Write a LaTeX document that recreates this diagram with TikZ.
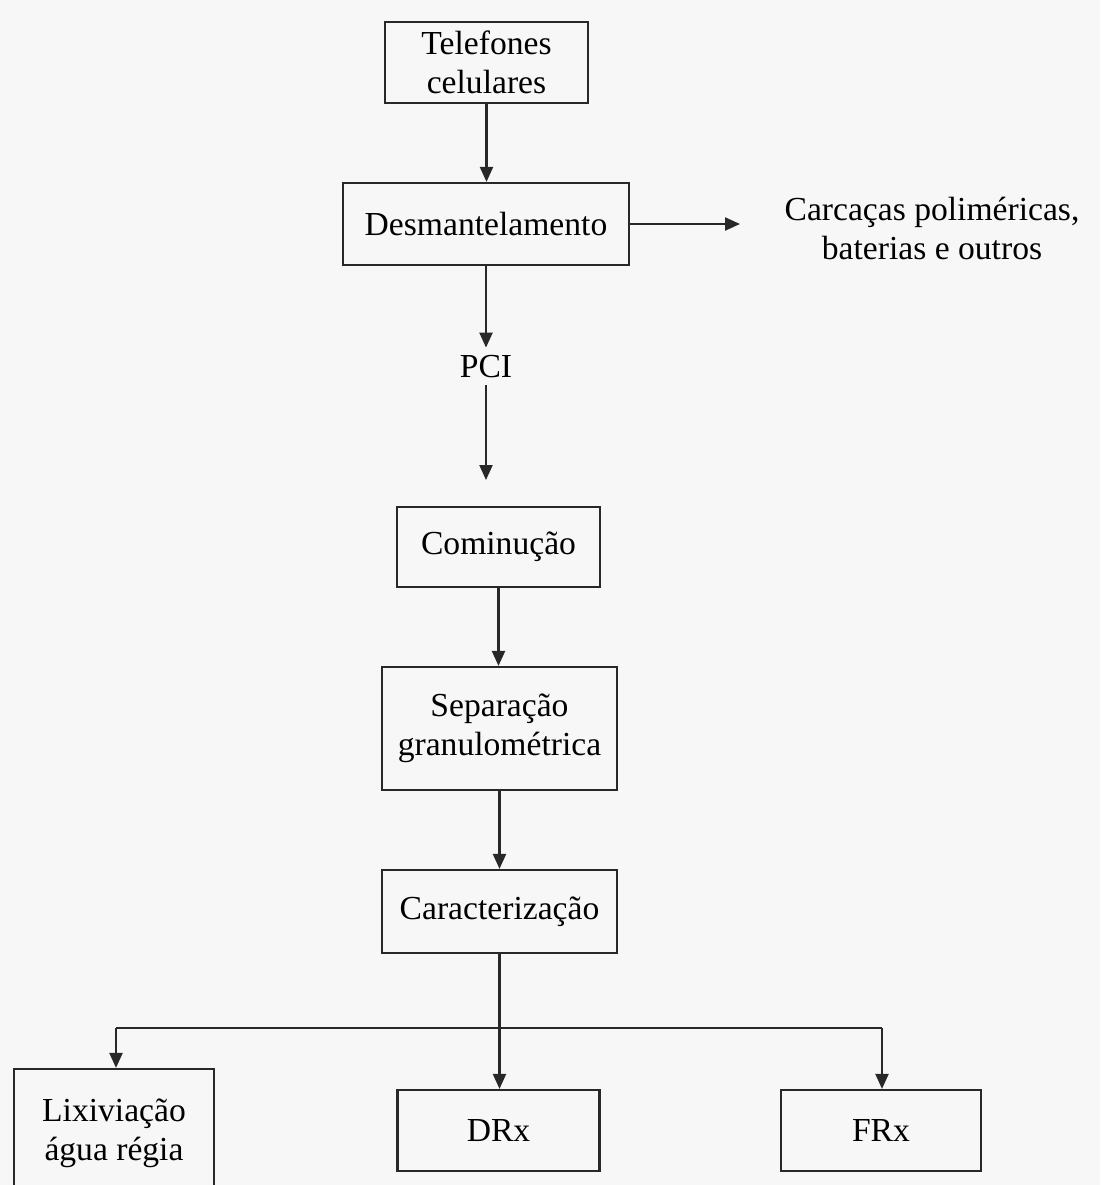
\documentclass[tikz,border=0pt]{standalone}
\usepackage{fontspec}
\setmainfont{Liberation Serif}
\usetikzlibrary{arrows.meta}
\definecolor{bgc}{RGB}{247,247,247}
\definecolor{lnc}{RGB}{40,40,40}
\begin{document}
\begin{tikzpicture}[x=0.5pt,y=-0.5pt,
  box/.style={draw=lnc, line width=1.1pt, align=center, inner sep=0pt, font=\fontsize{16.8}{19.5}\selectfont, text=black},
  txt/.style={align=center, inner sep=0pt, font=\fontsize{16.8}{19.5}\selectfont, text=black},
  conn/.style={draw=lnc, line width=1.1pt},
  arr/.style={conn, -{Triangle[length=7.5pt,width=6.5pt]}}]
\fill[bgc] (0,0) rectangle (1100,1185);
\useasboundingbox (0,0) rectangle (1100,1185);
\node[box, minimum width=101.5pt, minimum height=40.5pt] (tel) at (486.5,62.5) {Telefones\\celulares};
\node[box, minimum width=143pt, minimum height=41pt] (des) at (486,224) {Desmantelamento};
\node[txt] (car) at (932,228) {Carcaças poliméricas,\\baterias e outros};
\node[txt, minimum height=18.5pt] (pci) at (486,366.5) {PCI};
\coordinate (carin) at (740,224);
\coordinate (pciend) at (486,480);
\node[box, minimum width=101.5pt, minimum height=40pt] (com) at (498.5,547) {Cominução};
\node[box, minimum width=117.5pt, minimum height=61.5pt] (sep) at (499.5,728.5) {Separação\\granulométrica};
\node[box, minimum width=117.5pt, minimum height=41.5pt] (cara) at (499.5,911.5) {Caracterização};
\node[box, minimum width=100pt, minimum height=64pt] (lix) at (114,1133) {Lixiviação\\água régia};
\node[box, minimum width=101pt, minimum height=40.5pt] (drx) at (498.5,1130.5) {DRx};
\node[box, minimum width=100pt, minimum height=40.5pt] (frx) at (881,1130.5) {FRx};
\coordinate (jl) at (116,1028);
\coordinate (jr) at (882,1028);
\coordinate (jm) at (cara.south |- jl);
\draw[arr] (tel.south) -- (tel.south |- des.north);
\draw[arr] (des.east) -- (carin);
\draw[arr] (des.south) -- (des.south |- pci.north);
\draw[arr] (pci.south) -- (pciend);
\draw[arr] (com.south) -- (com.south |- sep.north);
\draw[arr] (sep.south) -- (sep.south |- cara.north);
\draw[conn] (cara.south) -- (jm);
\draw[conn] (jl) -- (jr);
\draw[arr] (jl) -- (jl |- lix.north);
\draw[arr] (jm) -- (jm |- drx.north);
\draw[arr] (jr) -- (jr |- frx.north);
\end{tikzpicture}
\end{document}
